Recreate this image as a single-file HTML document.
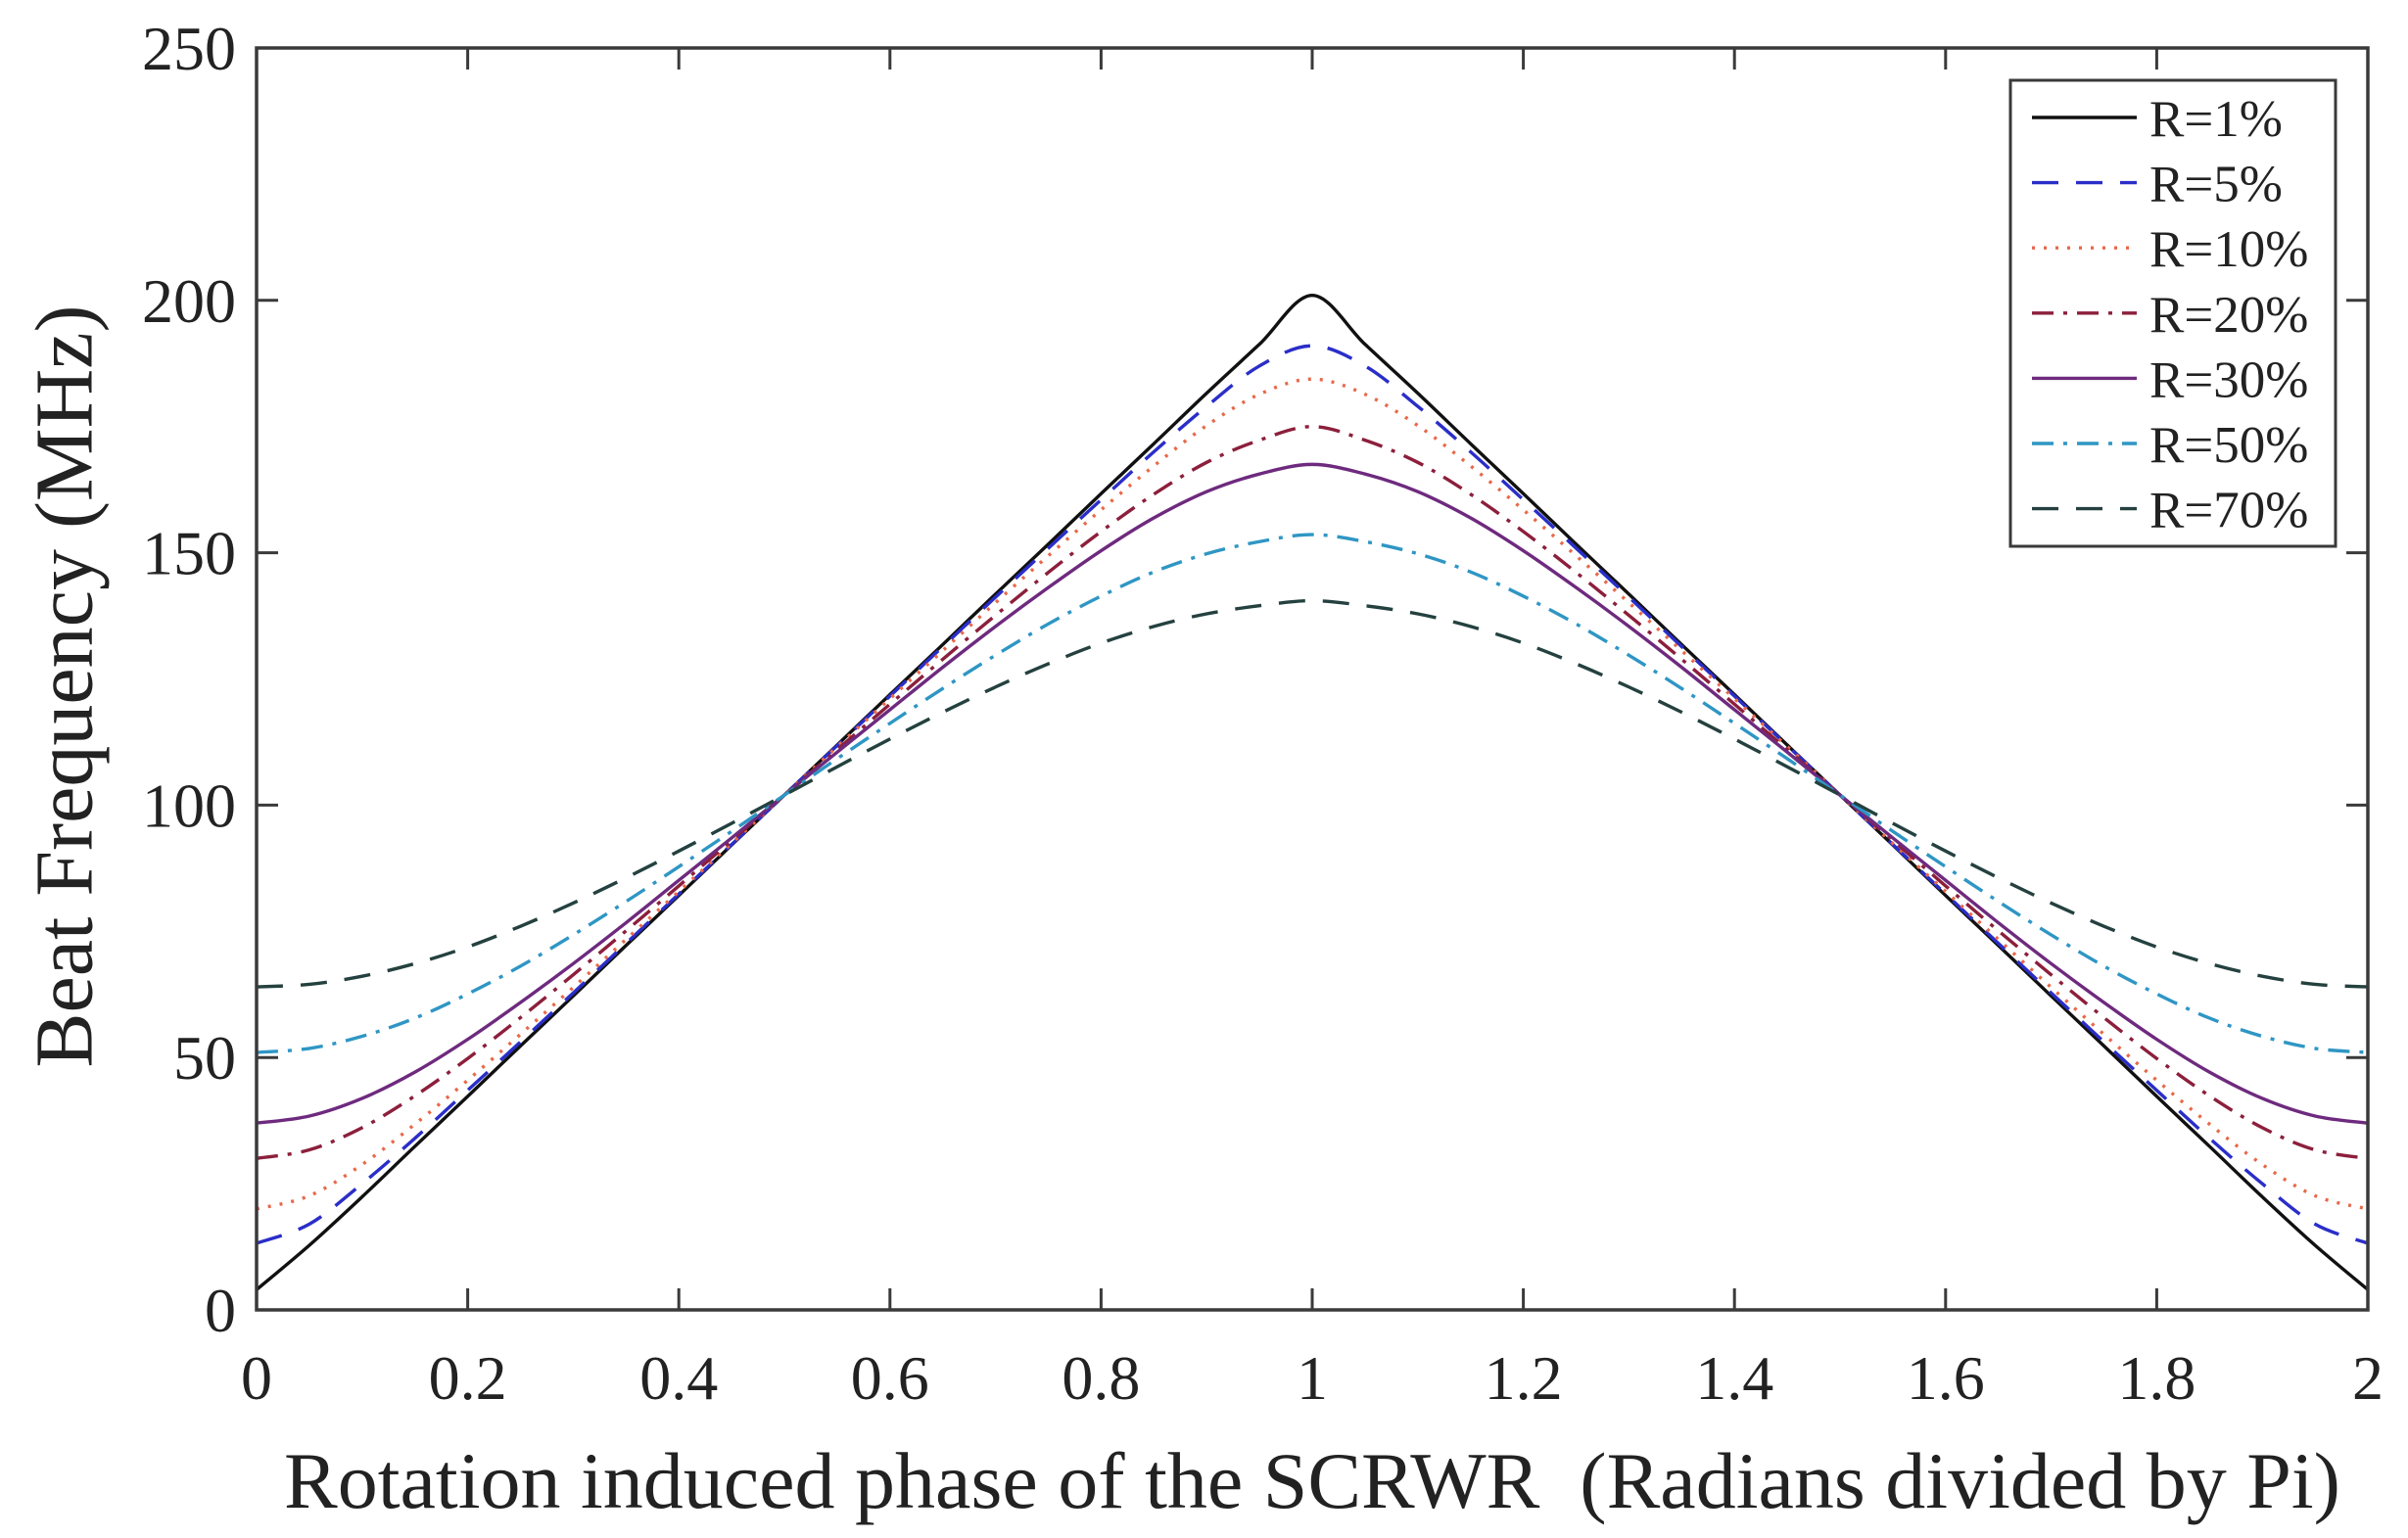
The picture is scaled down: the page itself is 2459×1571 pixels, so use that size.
<!DOCTYPE html>
<html>
<head>
<meta charset="utf-8">
<style>
  html, body { margin: 0; padding: 0; background: #ffffff; }
  svg { display: block; }
  text { font-family: "Liberation Serif", "Times New Roman", serif; fill: #222; }
</style>
</head>
<body>
<svg id="chart" width="2459" height="1571" viewBox="0 0 2459 1571" xmlns="http://www.w3.org/2000/svg">
  <rect x="0" y="0" width="2459" height="1571" fill="#ffffff"/>
  <g id="series"></g>
  <g id="axes"></g>
  <text x="0" y="0" font-size="84" text-anchor="middle" dominant-baseline="central" transform="translate(66,701) rotate(-90)">Beat Frequency (MHz)</text>
  <text x="1340" y="1540" font-size="82" text-anchor="middle" xml:space="preserve">Rotation induced phase of the SCRWR  (Radians divided by Pi)</text>
  <g id="legend"></g>
</svg>
<script>
const xValues = [0,0.05,0.1,0.15,0.2,0.25,0.3,0.35,0.4,0.45,0.5,0.55,0.6,0.65,0.7,0.75,0.8,0.85,0.9,0.95,1,
  1.05,1.1,1.15,1.2,1.25,1.3,1.35,1.4,1.45,1.5,1.55,1.6,1.65,1.7,1.75,1.8,1.85,1.9,1.95,2];
const r1Values  = [4.0,12.8,22.4,32.4,42.3,52.3,62.2,72.2,82.1,92.1,102,111.9,121.9,131.8,141.8,151.7,161.7,171.6,181.6,191.3,201,
  191.3,181.6,171.6,161.7,151.7,141.8,131.8,121.9,111.9,102,92.1,82.1,72.2,62.2,52.3,42.3,32.4,22.4,12.8,4.0];
const r5Values  = [13.2,17.0,25.0,34.0,43.5,53.1,62.8,72.6,82.4,92.2,102,111.8,121.6,131.4,141.2,150.9,160.5,170.0,179.0,187.0,191,
  187.0,179.0,170.0,160.5,150.9,141.2,131.4,121.6,111.8,102,92.2,82.4,72.6,62.8,53.1,43.5,34.0,25.0,17.0,13.2];
const r10Values = [20.0,22.6,28.8,36.8,45.5,54.6,63.9,73.4,82.9,92.4,102,111.6,121.1,130.6,140.1,149.4,158.5,167.2,175.2,181.4,184.4,
  181.4,175.2,167.2,158.5,149.4,140.1,130.6,121.1,111.6,102,92.4,82.9,73.4,63.9,54.6,45.5,36.8,28.8,22.6,20.0];
const r20Values = [30.0,31.7,36.1,42.4,49.8,57.9,66.4,75.1,84.0,93.0,102,111.0,120.0,128.9,137.6,146.1,154.2,161.6,167.9,172.3,175.0,
  172.3,167.9,161.6,154.2,146.1,137.6,128.9,120.0,111.0,102,93.0,84.0,75.1,66.4,57.9,49.8,42.4,36.1,31.7,30.0];
const r30Values = [37.0,38.4,41.9,47.1,53.6,60.9,68.6,76.7,85.1,93.5,102,110.5,118.9,127.3,135.4,143.1,150.4,156.9,162.1,165.6,167.5,
  165.6,162.1,156.9,150.4,143.1,135.4,127.3,118.9,110.5,102,93.5,85.1,76.7,68.6,60.9,53.6,47.1,41.9,38.4,37.0];
const r50Values = [51.0,51.8,54.2,57.8,62.6,68.1,74.3,80.9,87.8,94.8,102,109.2,116.2,123.1,129.7,135.9,141.4,146.2,149.8,152.2,153.6,
  152.2,149.8,146.2,141.4,135.9,129.7,123.1,116.2,109.2,102,94.8,87.8,80.9,74.3,68.1,62.6,57.8,54.2,51.8,51.0];
const r70Values = [64.0,64.5,66.1,68.6,71.9,76.0,80.6,85.6,90.9,96.4,102,107.6,113.1,118.4,123.4,128.0,132.1,135.4,137.9,139.5,140.5,
  139.5,137.9,135.4,132.1,128.0,123.4,118.4,113.1,107.6,102,96.4,90.9,85.6,80.6,76.0,71.9,68.6,66.1,64.5,64.0];
const seriesLabels = ["R=1%","R=5%","R=10%","R=20%","R=30%","R=50%","R=70%"];
const xTickValues = [0,0.2,0.4,0.6,0.8,1,1.2,1.4,1.6,1.8,2];
const xTickLabels = ["0","0.2","0.4","0.6","0.8","1","1.2","1.4","1.6","1.8","2"];
const yTickValues = [0,50,100,150,200,250];
const yTickLabels = ["0","50","100","150","200","250"];

const NS = "http://www.w3.org/2000/svg";
const PL = 262, PR = 2418, PT = 49, PB = 1338;
const XMIN = 0, XMAX = 2, YMIN = 0, YMAX = 250;
function xScale(v){ return PL + (v - XMIN) / (XMAX - XMIN) * (PR - PL); }
function yScale(v){ return PB - (v - YMIN) / (YMAX - YMIN) * (PB - PT); }

const styles = [
  {color:"#111111", dash:"", w:3.4, name:"series-r1"},
  {color:"#2a2ec8", dash:"27 18", w:3.4, name:"series-r5"},
  {color:"#e8684a", dash:"3 9", w:3.4, name:"series-r10"},
  {color:"#8c1f3c", dash:"22 10 4 10", w:3.4, name:"series-r20"},
  {color:"#6e2a7e", dash:"", w:3.4, name:"series-r30"},
  {color:"#2f96c4", dash:"22 10 4 10", w:3.4, name:"series-r50"},
  {color:"#24413f", dash:"27 18", w:3.4, name:"series-r70"}
];
const allSeries = [r1Values,r5Values,r10Values,r20Values,r30Values,r50Values,r70Values];

function smoothPath(xs, ys){
  const pts = xs.map((x,i)=>[xScale(x), yScale(ys[i])]);
  let d = "M" + pts[0][0].toFixed(2) + "," + pts[0][1].toFixed(2);
  for (let i=0;i<pts.length-1;i++){
    const p0 = pts[Math.max(0,i-1)], p1 = pts[i], p2 = pts[i+1], p3 = pts[Math.min(pts.length-1,i+2)];
    const c1x = p1[0] + (p2[0]-p0[0])/6, c1y = p1[1] + (p2[1]-p0[1])/6;
    const c2x = p2[0] - (p3[0]-p1[0])/6, c2y = p2[1] - (p3[1]-p1[1])/6;
    d += " C" + c1x.toFixed(2)+","+c1y.toFixed(2)+" "+c2x.toFixed(2)+","+c2y.toFixed(2)+" "+p2[0].toFixed(2)+","+p2[1].toFixed(2);
  }
  return d;
}

const sg = document.getElementById("series");
allSeries.forEach((vals, k) => {
  const p = document.createElementNS(NS, "path");
  p.setAttribute("d", smoothPath(xValues, vals));
  p.setAttribute("fill", "none");
  p.setAttribute("stroke", styles[k].color);
  p.setAttribute("stroke-width", styles[k].w);
  if (styles[k].dash) p.setAttribute("stroke-dasharray", styles[k].dash);
  
  
  sg.appendChild(p);
});

const ag = document.getElementById("axes");
const frame = document.createElementNS(NS, "rect");
frame.setAttribute("x", PL); frame.setAttribute("y", PT);
frame.setAttribute("width", PR-PL); frame.setAttribute("height", PB-PT);
frame.setAttribute("fill", "none"); frame.setAttribute("stroke", "#3a3a3a"); frame.setAttribute("stroke-width", "3.5");


ag.appendChild(frame);

const TL = 22;
xTickValues.forEach((v, i) => {
  const x = xScale(v);
  [[PB, PB-TL],[PT, PT+TL]].forEach(([a,b]) => {
    const t = document.createElementNS(NS, "line");
    t.setAttribute("x1", x); t.setAttribute("x2", x); t.setAttribute("y1", a); t.setAttribute("y2", b);
    t.setAttribute("stroke", "#3a3a3a"); t.setAttribute("stroke-width", "3");
    
    
    ag.appendChild(t);
  });
  const lb = document.createElementNS(NS, "text");
  lb.setAttribute("x", x); lb.setAttribute("y", 1429);
  lb.setAttribute("font-size", "64"); lb.setAttribute("text-anchor", "middle");
  lb.textContent = xTickLabels[i];
  
  
  ag.appendChild(lb);
});
yTickValues.forEach((v, i) => {
  const y = yScale(v);
  [[PL, PL+TL],[PR, PR-TL]].forEach(([a,b]) => {
    const t = document.createElementNS(NS, "line");
    t.setAttribute("x1", a); t.setAttribute("x2", b); t.setAttribute("y1", y); t.setAttribute("y2", y);
    t.setAttribute("stroke", "#3a3a3a"); t.setAttribute("stroke-width", "3");
    
    
    ag.appendChild(t);
  });
  const lb = document.createElementNS(NS, "text");
  lb.setAttribute("x", 241); lb.setAttribute("y", y + 22);
  lb.setAttribute("font-size", "64"); lb.setAttribute("text-anchor", "end");
  lb.textContent = yTickLabels[i];
  
  
  ag.appendChild(lb);
});

const lg = document.getElementById("legend");
const box = document.createElementNS(NS, "rect");
box.setAttribute("x", 2053); box.setAttribute("y", 82);
box.setAttribute("width", 332); box.setAttribute("height", 476);
box.setAttribute("fill", "#ffffff"); box.setAttribute("stroke", "#3a3a3a"); box.setAttribute("stroke-width", "3");


lg.appendChild(box);
seriesLabels.forEach((lab, k) => {
  const cy = 120 + k * 66.6;
  const ln = document.createElementNS(NS, "line");
  ln.setAttribute("x1", 2075); ln.setAttribute("x2", 2182); ln.setAttribute("y1", cy); ln.setAttribute("y2", cy);
  ln.setAttribute("stroke", styles[k].color); ln.setAttribute("stroke-width", styles[k].w);
  if (styles[k].dash) ln.setAttribute("stroke-dasharray", styles[k].dash);
  
  
  lg.appendChild(ln);
  const tx = document.createElementNS(NS, "text");
  tx.setAttribute("x", 2195); tx.setAttribute("y", cy + 19);
  tx.setAttribute("font-size", "53");
  tx.textContent = lab;
  
  
  lg.appendChild(tx);
});
</script>
</body>
</html>
